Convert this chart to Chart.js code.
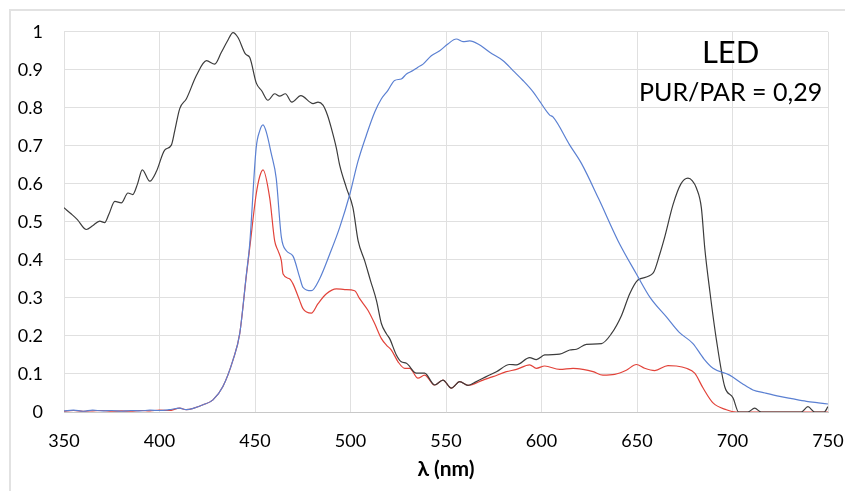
<!DOCTYPE html>
<html>
<head>
<meta charset="utf-8">
<script src="https://cdn.jsdelivr.net/npm/chart.js@4/dist/chart.umd.min.js"></script>
<style>
    html, body { margin: 0; padding: 0; background: #fff; }
    #wrap { position: relative; width: 845px; height: 491px; }
    #frame { position: absolute; left: 9px; top: 9px; right: -5px; bottom: -5px; border-left: 2px solid #e2e2e2; border-top: 2px solid #e2e2e2; }
    canvas { position: absolute; left: 0; top: 0; }
</style>
</head>
<body>
<div id="wrap">
    <div id="frame"></div>
    <canvas id="ledChart" width="845" height="491"></canvas>
</div>
<script>
// spectra: wavelength (nm) and relative value
const blackNm = [350, 354, 357, 361.7, 365, 368.7, 371.3, 373.5, 376.6, 380, 383.5, 386, 388.5, 391, 394.9, 398.4, 402.7, 406.2, 408, 410.6, 414.1, 419.3, 424.6, 428.9, 432.4, 435.5, 438.5, 441.1, 445.1, 447.2, 450.7, 453.5, 456.8, 460.3, 462.9, 465.9, 469.3, 474, 480.4, 483, 485.6, 488, 490, 492.6, 494.3, 497.9, 501.3, 504, 507.4, 510.5, 513.6, 516.2, 518.8, 520.5, 524, 526.6, 529.3, 534.5, 538.8, 544.1, 548.4, 552.8, 557.2, 561.5, 565.9, 571.1, 576.4, 583.3, 586.9, 593.8, 597.3, 601.7, 609.5, 614.8, 618.3, 623.5, 631.4, 636.6, 641.9, 646.2, 650.5, 658.4, 661.9, 664.5, 668.9, 673, 676.7, 679, 681.1, 683.7, 685.5, 688.1, 691.6, 695.9, 700.3, 703.2, 708, 711.6, 715, 736, 739.5, 743, 748, 750];
const blackVal = [0.537, 0.52, 0.506, 0.48, 0.49, 0.502, 0.498, 0.52, 0.554, 0.55, 0.576, 0.572, 0.6, 0.637, 0.607, 0.633, 0.689, 0.702, 0.74, 0.798, 0.824, 0.885, 0.924, 0.915, 0.946, 0.975, 0.998, 0.985, 0.941, 0.933, 0.865, 0.845, 0.82, 0.837, 0.831, 0.837, 0.815, 0.832, 0.811, 0.815, 0.807, 0.78, 0.746, 0.694, 0.65, 0.589, 0.537, 0.45, 0.398, 0.345, 0.293, 0.232, 0.206, 0.193, 0.15, 0.132, 0.128, 0.102, 0.102, 0.071, 0.084, 0.063, 0.08, 0.07, 0.08, 0.093, 0.106, 0.125, 0.124, 0.143, 0.138, 0.15, 0.152, 0.163, 0.165, 0.178, 0.18, 0.206, 0.254, 0.311, 0.347, 0.365, 0.415, 0.46, 0.546, 0.6, 0.615, 0.608, 0.589, 0.537, 0.43, 0.319, 0.189, 0.067, 0.037, 0, 0, 0.01, 0, 0, 0.014, 0, 0, 0.014];

const blueNm = [350, 355, 360, 365, 370, 375, 380, 385, 390, 395, 400, 405, 410.6, 414, 418, 422.8, 428, 433.2, 438.5, 442, 445.5, 447.2, 450.6, 452.5, 454.2, 456, 458.5, 461.1, 463.8, 466.4, 469.9, 473.4, 475.1, 479.5, 483.8, 489.1, 494.3, 499.6, 503.9, 508.3, 512.7, 516.2, 519.6, 523.1, 526.6, 529.3, 532.7, 535.3, 538, 542.3, 546.7, 551, 555.4, 558.9, 562.4, 566.8, 572.9, 579.9, 585.1, 590.3, 595.6, 599.1, 604.3, 606, 614.8, 620.9, 630, 640.1, 649.7, 657, 665.4, 672, 679.3, 685, 689.8, 698.5, 705, 710.7, 717, 724.7, 731, 738.7, 745, 750];
const blueVal = [0.003, 0.005, 0.002, 0.005, 0.003, 0.004, 0.002, 0.004, 0.003, 0.005, 0.004, 0.006, 0.01, 0.006, 0.01, 0.019, 0.032, 0.067, 0.137, 0.206, 0.363, 0.44, 0.694, 0.74, 0.755, 0.735, 0.68, 0.615, 0.46, 0.424, 0.41, 0.354, 0.328, 0.319, 0.35, 0.415, 0.485, 0.572, 0.659, 0.728, 0.789, 0.824, 0.846, 0.872, 0.876, 0.889, 0.898, 0.907, 0.915, 0.937, 0.95, 0.968, 0.981, 0.974, 0.976, 0.968, 0.946, 0.924, 0.898, 0.872, 0.842, 0.817, 0.781, 0.776, 0.702, 0.654, 0.56, 0.45, 0.363, 0.3, 0.25, 0.21, 0.18, 0.14, 0.115, 0.097, 0.075, 0.058, 0.05, 0.041, 0.035, 0.028, 0.024, 0.021];

const redNm = [350, 355, 360, 365, 370, 375, 380, 385, 390, 395, 400, 405, 410.6, 414, 418, 422.8, 428, 433.2, 438.5, 442, 445.5, 447.2, 450.6, 452.5, 454.2, 457.7, 460.3, 462, 463.8, 464.7, 468.2, 469.9, 473.4, 475.1, 479.5, 483, 487.4, 492.6, 497, 502.2, 504.8, 509.2, 512.7, 516.2, 518.8, 521.4, 524.9, 528.4, 531, 535.3, 538.8, 544.1, 548.4, 552.8, 557.2, 561.5, 569.4, 574.6, 581.6, 586.9, 593.8, 597.3, 601.7, 609.5, 616.5, 621.7, 627, 632.2, 638.3, 644.4, 649.7, 654, 659.3, 666.2, 670.6, 675.8, 680.2, 684.6, 689.8, 696.8, 702, 750];
const redVal = [0.002, 0.004, 0.002, 0.003, 0.004, 0.002, 0.003, 0.002, 0.004, 0.003, 0.005, 0.004, 0.01, 0.006, 0.01, 0.019, 0.032, 0.067, 0.137, 0.206, 0.36, 0.43, 0.572, 0.62, 0.637, 0.563, 0.45, 0.425, 0.398, 0.363, 0.35, 0.337, 0.293, 0.272, 0.26, 0.285, 0.311, 0.324, 0.322, 0.319, 0.298, 0.267, 0.232, 0.193, 0.176, 0.163, 0.132, 0.115, 0.115, 0.089, 0.097, 0.071, 0.084, 0.063, 0.08, 0.07, 0.084, 0.093, 0.106, 0.112, 0.124, 0.115, 0.121, 0.112, 0.115, 0.112, 0.106, 0.097, 0.099, 0.11, 0.125, 0.115, 0.109, 0.122, 0.121, 0.115, 0.102, 0.063, 0.024, 0.006, 0, 0];

const xTicks = [350, 400, 450, 500, 550, 600, 650, 700, 750];
const yTicks = [0, 0.1, 0.2, 0.3, 0.4, 0.5, 0.6, 0.7, 0.8, 0.9, 1];
const yTickLabels = ['0', '0.1', '0.2', '0.3', '0.4', '0.5', '0.6', '0.7', '0.8', '0.9', '1'];
const noteLines = ['LED', 'PUR/PAR = 0,29'];

const toPoints = (xs, ys) => xs.map((x, i) => ({ x: x, y: ys[i] }));

// text box top right inside the plot
const notePlugin = {
    id: 'note',
    afterDatasetsDraw(chart) {
        const { ctx, scales } = chart;
        const cx = scales.x.getPixelForValue(699);
        ctx.save();
        ctx.fillStyle = '#000';
        ctx.textAlign = 'center';
        ctx.textBaseline = 'middle';
        ctx.font = '31px Lato';
        ctx.fillText(noteLines[0], cx, scales.y.getPixelForValue(0.943));
        ctx.font = '25px Lato';
        ctx.fillText(noteLines[1], cx, scales.y.getPixelForValue(0.840));
        ctx.restore();
    }
};

const lineStyle = {
    borderWidth: 1.2,
    pointRadius: 0,
    fill: false,
    cubicInterpolationMode: 'monotone'
};

const ctx = document.getElementById('ledChart').getContext('2d');
new Chart(ctx, {
    type: 'line',
    data: {
        datasets: [
            { ...lineStyle, label: 'blue', data: toPoints(blueNm, blueVal), borderColor: '#5b80d2' },
            { ...lineStyle, label: 'black', data: toPoints(blackNm, blackVal), borderColor: '#3c3c3c' },
            { ...lineStyle, label: 'red', data: toPoints(redNm, redVal), borderColor: '#e2433a' }
        ]
    },
    options: {
        responsive: false,
        animation: false,
        layout: { padding: { top: 29, right: 0, left: 0, bottom: 0 } },
        plugins: {
            legend: { display: false },
            tooltip: { enabled: false }
        },
        scales: {
            x: {
                type: 'linear',
                min: 350,
                max: 750,
                afterBuildTicks: (s) => { s.ticks = xTicks.map(v => ({ value: v })); },
                afterFit: (s) => { s.height = 79; s.paddingRight = 17; },
                ticks: { color: '#000', padding: 18, maxRotation: 0, font: { family: 'Lato', size: 18 } },
                grid: { color: '#e0e0e0', drawTicks: false },
                border: { color: '#c8c8c8' },
                title: {
                    display: true,
                    text: 'λ (nm)',
                    color: '#000',
                    font: { family: 'Lato', size: 21, weight: 'bold' },
                    padding: { top: 0, bottom: 9 }
                }
            },
            y: {
                min: 0,
                max: 1,
                afterBuildTicks: (s) => { s.ticks = yTicks.map(v => ({ value: v })); },
                afterFit: (s) => { s.width = 64; },
                ticks: {
                    color: '#000',
                    padding: 21,
                    font: { family: 'Lato', size: 18 },
                    callback: (v) => yTickLabels[yTicks.findIndex(t => Math.abs(t - v) < 1e-6)]
                },
                grid: { color: '#e0e0e0', drawTicks: false },
                border: { display: false }
            }
        }
    },
    plugins: [notePlugin]
});
</script>
</body>
</html>
